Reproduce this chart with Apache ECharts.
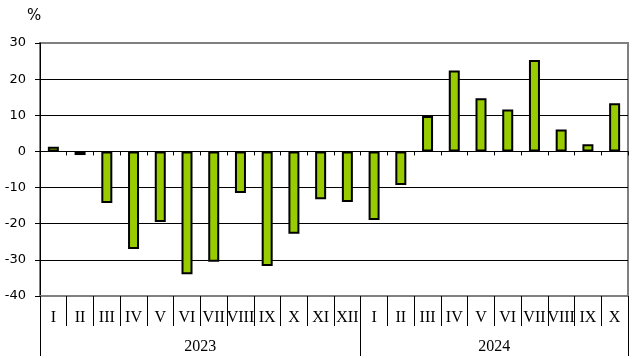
<!DOCTYPE html>
<html>
<head>
<meta charset="utf-8">
<script src="https://cdn.jsdelivr.net/npm/echarts@6/dist/echarts.min.js"></script>
<style>
html,body{margin:0;padding:0;background:#fff;}
#chart{width:632px;height:359px;}
</style>
</head>
<body>
<div id="chart"></div>
<script>
const months = ['I','II','III','IV','V','VI','VII','VIII','IX','X','XI','XII',
                'I','II','III','IV','V','VI','VII','VIII','IX','X'];
const values = [1.3,-1.0,-14.3,-27.0,-19.5,-34.0,-30.5,-11.5,-31.7,-22.8,-13.2,-14.0,
                -19.0,-9.3,9.8,22.4,14.7,11.6,25.3,6.1,2.0,13.3];
const years = ['2023','2024'];
const yearSpans = [12,10];
const yTicks = [-40,-30,-20,-10,0,10,20,30];

// derived positions for year group labels/separators (in category units)
const yearBounds = [0];
yearSpans.forEach(s => yearBounds.push(yearBounds[yearBounds.length-1] + s));
const yearCenters = yearSpans.map((s,i) => yearBounds[i] + s/2);

const chart = echarts.init(document.getElementById('chart'));
const gridLineColors = yTicks.map((v,i) => (i === 0 || i === yTicks.length-1) ? '#808080' : '#000000');

chart.setOption({
  animation: false,
  title: {
    text: '%', left: 27, top: 9, padding: 0,
    textStyle: {fontFamily: 'DejaVu Sans', fontSize: 15, fontWeight: 'normal', color: '#000'}
  },
  grid: {left: 40, right: 4, top: 43, bottom: 63, show: true, borderColor: '#808080', borderWidth: 2, backgroundColor: 'transparent'},
  xAxis: [
    {
      type: 'category', data: months, position: 'bottom',
      axisLine: {onZero: true, lineStyle: {color: '#000', width: 1}},
      axisTick: {show: true, length: 4, interval: 0, lineStyle: {color: '#000'}},
      axisLabel: {show: false},
      splitLine: {show: false}
    },
    {
      type: 'category', data: months, position: 'bottom',
      axisLine: {onZero: false, lineStyle: {color: '#808080', width: 2}},
      axisTick: {show: true, length: 30, interval: 0, lineStyle: {color: '#000', width: 1}},
      axisLabel: {show: true, interval: 0, margin: 14, fontFamily: 'Liberation Serif', fontSize: 16, color: '#000'},
      splitLine: {show: false}
    },
    {
      type: 'value', position: 'bottom', min: 0, max: yearBounds[yearBounds.length-1],
      axisLine: {show: false, onZero: false},
      axisTick: {show: true, length: 60, customValues: yearBounds, lineStyle: {color: '#000', width: 1}},
      axisLabel: {show: true, margin: 43, customValues: yearCenters,
        formatter: function (v) { const i = yearCenters.indexOf(v); return i >= 0 ? years[i] : ''; },
        fontFamily: 'Liberation Serif', fontSize: 16, color: '#000'},
      splitLine: {show: false}
    }
  ],
  yAxis: {
    type: 'value', min: -40, max: 30, interval: 10,
    axisLine: {show: true, onZero: false, lineStyle: {color: '#000', width: 1}},
    axisTick: {show: true, length: 5, lineStyle: {color: '#000'}},
    axisLabel: {margin: 14, fontFamily: 'DejaVu Sans', fontSize: 13, color: '#000'},
    splitLine: {show: true, lineStyle: {color: gridLineColors, width: 1}}
  },
  series: [{
    type: 'bar', xAxisIndex: 0, data: values, barWidth: 11,
    itemStyle: {color: '#99cc00', borderColor: '#000', borderWidth: 2}
  }]
});
</script>
</body>
</html>
